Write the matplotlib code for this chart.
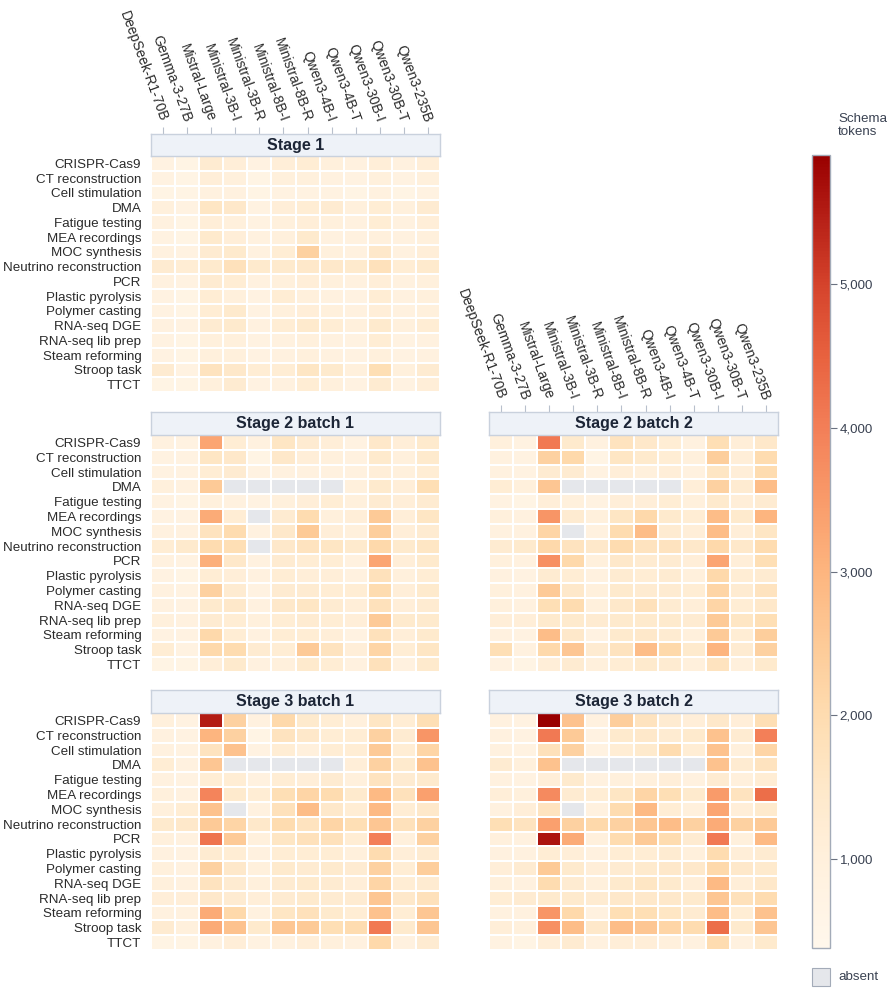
import numpy as np
import matplotlib
matplotlib.use("Agg")
import matplotlib.pyplot as plt
from matplotlib.colors import LinearSegmentedColormap, Normalize
from matplotlib.patches import Rectangle
from matplotlib.cm import ScalarMappable

plt.rcParams['font.family'] = ['Liberation Sans', 'DejaVu Sans']

models = ["DeepSeek-R1-70B", "Gemma-3-27B", "Mistral-Large", "Ministral-3B-I",
          "Ministral-3B-R", "Ministral-8B-I", "Ministral-8B-R", "Qwen3-4B-I",
          "Qwen3-4B-T", "Qwen3-30B-I", "Qwen3-30B-T", "Qwen3-235B"]
tasks = ["CRISPR-Cas9", "CT reconstruction", "Cell stimulation", "DMA",
         "Fatigue testing", "MEA recordings", "MOC synthesis",
         "Neutrino reconstruction", "PCR", "Plastic pyrolysis",
         "Polymer casting", "RNA-seq DGE", "RNA-seq lib prep",
         "Steam reforming", "Stroop task", "TTCT"]
N = None

stage1 = [
    [800, 700, 1300, 1100, 800, 1100, 1200, 1000, 900, 1100, 900, 1100],
    [800, 700, 1100, 1000, 700, 1000, 1000, 900, 800, 1000, 800, 1000],
    [700, 700, 900, 900, 700, 800, 800, 800, 700, 900, 700, 800],
    [1000, 800, 1600, 1500, 800, 1100, 1200, 1300, 1000, 1200, 1000, 1300],
    [900, 700, 1100, 1000, 800, 1000, 1100, 1000, 900, 1200, 900, 1100],
    [800, 700, 1400, 1100, 900, 1000, 1400, 900, 900, 1000, 900, 1000],
    [900, 800, 1300, 1400, 900, 1200, 2300, 1000, 900, 1500, 900, 1100],
    [1300, 1200, 1400, 1800, 1400, 1400, 1500, 1500, 1400, 1800, 1200, 1400],
    [900, 800, 1300, 1200, 900, 1000, 1100, 1000, 900, 1100, 900, 1000],
    [800, 700, 1200, 1000, 800, 1200, 1000, 900, 800, 1200, 900, 1000],
    [800, 700, 1200, 1400, 800, 1000, 1100, 1000, 900, 1100, 900, 1000],
    [900, 800, 1300, 1400, 900, 1200, 1400, 1200, 1000, 1400, 1000, 1200],
    [800, 700, 1000, 1000, 800, 900, 1000, 900, 800, 1200, 800, 900],
    [800, 700, 1000, 1000, 800, 900, 1000, 900, 800, 1000, 800, 900],
    [1300, 800, 1700, 1500, 1200, 1200, 1600, 1400, 1000, 1900, 1000, 1300],
    [700, 700, 1000, 1300, 800, 900, 1200, 1000, 800, 1300, 800, 1100],
]

stage2_b1 = [
    [900, 800, 3300, 1200, 900, 1600, 1300, 1100, 800, 1500, 1100, 1400],
    [800, 800, 1600, 1500, 700, 1500, 1100, 1000, 900, 1400, 1000, 1400],
    [800, 800, 1200, 1300, 800, 900, 900, 900, 900, 1100, 1000, 1200],
    [1000, 900, 2500, N, N, N, N, N, 1000, 1400, 1100, 1900],
    [800, 700, 1000, 900, 800, 1000, 1100, 1200, 1000, 1300, 1100, 1300],
    [800, 800, 3200, 1200, N, 1300, 2000, 1000, 1100, 2500, 1100, 1600],
    [900, 900, 1700, 2000, 900, 1500, 2500, 1100, 1000, 2400, 1100, 1300],
    [1200, 1400, 2000, 1900, N, 1500, 1700, 1600, 1400, 2100, 1400, 1600],
    [900, 800, 3100, 1500, 900, 1300, 1200, 1200, 900, 3300, 1100, 1400],
    [800, 700, 1200, 1100, 900, 1200, 1100, 1100, 900, 1800, 1000, 1200],
    [900, 800, 2300, 1300, 800, 1300, 1300, 1200, 1200, 2000, 1100, 1400],
    [900, 800, 1400, 1500, 900, 1500, 1600, 1300, 1100, 1800, 1100, 1300],
    [1000, 900, 1300, 1200, 1000, 1200, 1300, 1200, 1100, 2500, 1400, 1400],
    [800, 800, 2100, 1200, 900, 1200, 1200, 1100, 800, 1800, 1100, 1400],
    [1200, 800, 2100, 2000, 1300, 1200, 2500, 1700, 1100, 2200, 1200, 1600],
    [700, 700, 1100, 1400, 900, 1000, 1400, 1200, 900, 1800, 900, 1400],
]

stage2_b2 = [
    [1000, 800, 4100, 1400, 900, 1700, 1500, 1200, 900, 1900, 1100, 1500],
    [900, 800, 2300, 2100, 700, 1600, 1400, 1200, 1000, 2400, 1100, 2000],
    [900, 800, 1300, 1300, 800, 1100, 1000, 1100, 900, 1600, 1100, 2000],
    [1200, 1000, 2600, N, N, N, N, N, 1100, 2300, 1300, 2800],
    [800, 700, 1100, 1000, 800, 1100, 1100, 1200, 1000, 1400, 1100, 1300],
    [1000, 900, 3600, 1300, 1000, 1600, 2100, 1400, 1200, 2800, 1400, 3000],
    [900, 900, 2200, N, 900, 2000, 2800, 1300, 1100, 2800, 1100, 1600],
    [1300, 1400, 2100, 1700, 1500, 2000, 1700, 1700, 1500, 2100, 1500, 2000],
    [1000, 900, 3700, 2100, 1000, 1500, 1300, 1300, 1100, 3300, 1100, 1900],
    [900, 800, 1300, 1200, 900, 1300, 1200, 1300, 1000, 2100, 1200, 1300],
    [1000, 900, 2500, 1500, 1000, 1400, 1300, 1300, 1200, 2200, 1300, 1700],
    [1000, 900, 1900, 2000, 1000, 1500, 1800, 1300, 1100, 2200, 1200, 1500],
    [1100, 1100, 1400, 1400, 1300, 1400, 1400, 1400, 1300, 2500, 1600, 1900],
    [900, 800, 2800, 1500, 800, 1400, 1500, 1300, 1000, 2500, 1200, 2400],
    [1900, 900, 2100, 2600, 1300, 1700, 2800, 2100, 1400, 3000, 1300, 2300],
    [800, 700, 1100, 1300, 1000, 1200, 1400, 1300, 1000, 1700, 1000, 1400],
]

stage3_b1 = [
    [1000, 800, 5500, 2300, 900, 2100, 1400, 1200, 1000, 1600, 1200, 1900],
    [900, 800, 3000, 2300, 700, 1700, 1500, 1200, 1200, 2300, 1300, 3600],
    [900, 800, 1700, 2700, 800, 1200, 1000, 1200, 1200, 2500, 1200, 2200],
    [1200, 900, 2600, N, N, N, N, N, 1100, 2300, 1400, 2700],
    [900, 800, 1200, 1200, 900, 1200, 1100, 1300, 1000, 1700, 1300, 1400],
    [1000, 900, 3900, 1400, 1200, 1900, 2200, 2000, 1400, 2900, 1800, 3400],
    [1000, 1200, 2700, N, 900, 1800, 2800, 1500, 1200, 2900, 1200, 1500],
    [1400, 1500, 2500, 2200, 1500, 2000, 1700, 2200, 1900, 2600, 1800, 2300],
    [1000, 900, 4200, 2500, 1000, 1600, 1800, 1800, 1200, 4000, 1000, 2300],
    [900, 800, 1300, 1200, 900, 1200, 1200, 1200, 1000, 2000, 1100, 1300],
    [1000, 900, 2300, 1500, 1000, 1400, 1300, 1400, 1300, 2300, 1200, 2400],
    [1000, 900, 1700, 1300, 1000, 1300, 1400, 1300, 1100, 2200, 1200, 1300],
    [1100, 1100, 1500, 1300, 1100, 1300, 1400, 1300, 1300, 2600, 1500, 1800],
    [900, 900, 3200, 2100, 900, 1600, 1800, 1400, 1200, 2700, 1200, 2600],
    [1300, 1000, 3200, 2700, 1400, 2600, 2500, 1900, 2000, 4100, 1400, 2600],
    [700, 700, 900, 1100, 800, 900, 1100, 1000, 900, 2100, 900, 1300],
]

stage3_b2 = [
    [900, 800, 5900, 2700, 900, 2400, 1700, 1300, 1100, 1500, 1100, 1900],
    [900, 800, 4100, 2500, 800, 1400, 1500, 1300, 1400, 2700, 1300, 4000],
    [900, 800, 1800, 2300, 800, 1200, 1400, 2000, 1200, 2700, 1000, 2200],
    [1300, 1000, 2700, N, N, N, N, N, N, 2700, 1300, 1700],
    [900, 800, 1100, 1400, 900, 1000, 1000, 1100, 900, 1300, 1000, 1200],
    [1100, 1000, 3800, 1300, 1200, 1600, 2200, 1900, 1400, 3500, 1700, 4300],
    [900, 1100, 1700, N, 900, 2000, 2900, 1200, 1000, 3300, 1100, 1400],
    [1900, 1700, 3400, 2300, 2100, 2300, 2600, 2800, 2300, 3200, 2300, 2500],
    [1000, 900, 5600, 3200, 1000, 2000, 2500, 2000, 1300, 4100, 1000, 2900],
    [900, 900, 1200, 1100, 900, 1200, 1200, 1300, 1000, 2000, 1100, 1300],
    [1100, 1300, 2500, 1400, 1100, 1300, 1400, 1500, 1500, 2100, 1500, 1400],
    [1000, 900, 2000, 1300, 1000, 1400, 1600, 1400, 1100, 2900, 1100, 1500],
    [1200, 1300, 1400, 1400, 1300, 1500, 1500, 1500, 1400, 2600, 1800, 2000],
    [900, 900, 3600, 2100, 900, 1900, 1900, 1600, 1300, 2800, 1200, 2700],
    [1100, 1000, 3700, 2800, 1500, 2800, 2600, 2200, 2000, 4300, 1400, 2600],
    [800, 700, 1100, 1300, 900, 1100, 1100, 1000, 900, 2000, 900, 1400],
]

cbar_ticks = [1000, 2000, 3000, 4000, 5000]
vmin, vmax = 380, 5900

# colour scale (value, colour)
stops = [(380, "#fff7ec"), (1000, "#fff0dc"), (1500, "#fee8c9"), (2000, "#fedcb0"),
         (2500, "#fdca97"), (3000, "#fdb57f"), (3500, "#f99b6a"), (4000, "#f37f58"),
         (4500, "#e8623f"), (5000, "#d5432c"), (5500, "#b41d15"), (5900, "#990000")]
cmap = LinearSegmentedColormap.from_list(
    "tok", [((v - vmin) / (vmax - vmin), c) for v, c in stops])
cmap.set_bad("#e5e7eb")
norm = Normalize(vmin=vmin, vmax=vmax)

W, H = 896, 993
fig = plt.figure(figsize=(W / 100, H / 100), dpi=100)


def rect(x0, x1, ytop, ybot):
    return [x0 / W, 1 - ybot / H, (x1 - x0) / W, (ybot - ytop) / H]


LABEL_C = "#2b2b2b"


def panel(x0, x1, ytop, ycell, ybot, data, title, show_x, show_y):
    arr = np.array([[np.nan if v is None else v for v in row] for row in data], dtype=float)
    ax = fig.add_axes(rect(x0, x1, ycell, ybot))
    ax.pcolormesh(np.arange(13) - 0.5, np.arange(17) - 0.5, np.ma.masked_invalid(arr),
                  cmap=cmap, norm=norm, edgecolors="white", linewidth=1.2)
    ax.set_xlim(-0.5, 11.5)
    ax.set_ylim(15.5, -0.5)
    for s in ax.spines.values():
        s.set_visible(False)
    ax.set_xticks([])
    if show_y:
        ax.set_yticks(range(16))
        ax.set_yticklabels(tasks, fontsize=9.6, color=LABEL_C)
        ax.tick_params(axis="y", length=0, pad=7)
    else:
        ax.set_yticks([])

    hax = fig.add_axes(rect(x0, x1, ytop, ycell))
    hax.set_xlim(-0.5, 11.5)
    hax.set_ylim(0, 1)
    hax.set_facecolor("#eef2f8")
    for s in hax.spines.values():
        s.set_color("#c9d1dd")
        s.set_linewidth(1)
    hax.text(5.5, 0.48, title, ha="center", va="center", fontsize=11.5,
             fontweight="bold", color="#1c2536")
    hax.set_yticks([])
    if show_x:
        hax.xaxis.tick_top()
        hax.set_xticks(range(12))
        hax.set_xticklabels(models, rotation=-70, ha="right", va="center",
                            rotation_mode="anchor", fontsize=10, color=LABEL_C)
        hax.tick_params(axis="x", length=5, width=0.8, color="#b8c0cc", pad=4)
    else:
        hax.set_xticks([])


LX0, LX1 = 151, 440
RX0, RX1 = 489, 778
panel(LX0, LX1, 134, 156, 392, stage1, "Stage 1", True, True)
panel(LX0, LX1, 412, 435, 672, stage2_b1, "Stage 2 batch 1", False, True)
panel(RX0, RX1, 412, 435, 672, stage2_b2, "Stage 2 batch 2", True, False)
panel(LX0, LX1, 690, 713, 950, stage3_b1, "Stage 3 batch 1", False, True)
panel(RX0, RX1, 690, 713, 950, stage3_b2, "Stage 3 batch 2", False, False)

# colorbar
cax = fig.add_axes(rect(812, 830, 155, 948))
cb = fig.colorbar(ScalarMappable(norm=norm, cmap=cmap), cax=cax)
cb.set_ticks(cbar_ticks)
cb.set_ticklabels([f"{t:,}" for t in cbar_ticks])
cb.outline.set_edgecolor("#a3abb8")
cb.outline.set_linewidth(1)
cax.tick_params(axis="y", length=5, width=0.8, color="#6b7280", labelsize=9.6,
                labelcolor="#3a4252", pad=2)
fig.text(838 / W, 1 - 113 / H, "Schema\ntokens", ha="left", va="top",
         fontsize=9.6, color="#3a4252", linespacing=1.15)

# absent legend
fig.patches.append(Rectangle((812 / W, 1 - 986 / H), 18 / W, 18 / H,
                             transform=fig.transFigure, facecolor="#e5e7eb",
                             edgecolor="#a3abb8", linewidth=0.8))
fig.text(838 / W, 1 - 977 / H, "absent", ha="left", va="center",
         fontsize=9.6, color="#3a4252")

fig.savefig("out.png", dpi=100)
